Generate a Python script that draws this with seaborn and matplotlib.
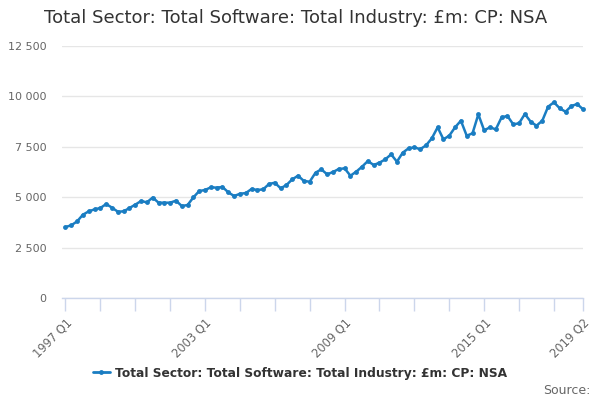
import matplotlib
matplotlib.use("Agg")
import matplotlib.pyplot as plt
import seaborn as sns
import pandas as pd
import numpy as np
from matplotlib.ticker import FuncFormatter

series_name = "Total Sector: Total Software: Total Industry: £m: CP: NSA"

values = [
    3522, 3605, 3803, 4133, 4298, 4397, 4464, 4662, 4480, 4282,
    4298, 4464, 4630, 4811, 4745, 4985, 4728, 4728, 4728, 4828,
    4563, 4613, 4993, 5307, 5357, 5490, 5474, 5506, 5242, 5059,
    5170, 5205, 5406, 5357, 5390, 5654, 5720, 5440, 5605, 5886,
    6067, 5803, 5770, 6216, 6382, 6133, 6250, 6398, 6430, 6067,
    6265, 6513, 6795, 6597, 6712, 6878, 7126, 6762, 7209, 7424,
    7473, 7380, 7570, 7920, 8466, 7870, 8051, 8466, 8795, 8051,
    8168, 9110, 8316, 8466, 8366, 8961, 9030, 8615, 8665, 9126,
    8745, 8547, 8795, 9490, 9707, 9410, 9240, 9523, 9622, 9360,
]

quarters = [f"{1997 + k // 4} Q{k % 4 + 1}" for k in range(len(values))]
label_quarters = ["1997 Q1", "2003 Q1", "2009 Q1", "2015 Q1", "2019 Q2"]
y_ticks = [0, 2500, 5000, 7500, 10000, 12500]

df = pd.DataFrame({"idx": np.arange(len(values)), "quarter": quarters, "value": values})

sns.set_style("white")
plt.rcParams["font.family"] = ["DejaVu Sans"]

line_color = "#1a7dc2"
fig = plt.figure(figsize=(6, 4), dpi=100)
ax = fig.add_axes([62 / 600, 1 - 298 / 400, (583 - 62) / 600, (298 - 46) / 400])

sns.lineplot(data=df, x="idx", y="value", ax=ax, color=line_color, linewidth=1.8,
             marker="o", markersize=3.5, markeredgewidth=0, label=series_name,
             clip_on=False, legend=False)

ax.set_xlim(-0.6, len(values) - 1)
ax.set_ylim(0, 12500)
ax.set_yticks(y_ticks)
ax.yaxis.set_major_formatter(FuncFormatter(lambda v, p: f"{int(v):,}".replace(",", " ")))
ax.grid(axis="y", color="#e6e6e6", linewidth=1)
ax.set_axisbelow(True)

minor_pos = list(range(0, len(values), 6)) + [len(values) - 1]
ax.set_xticks(minor_pos)
lab_pos = [quarters.index(q) for q in label_quarters]
ax.set_xticklabels([quarters[p] if p in lab_pos else "" for p in minor_pos],
                   rotation=45, ha="right", rotation_mode="anchor")
ax.tick_params(axis="x", length=9, width=1, color="#ccd6eb", labelsize=8.3,
               labelcolor="#666666", pad=4, bottom=True)
ax.tick_params(axis="y", length=0, labelsize=8, labelcolor="#666666", pad=11)

for s in ["top", "right", "left"]:
    ax.spines[s].set_visible(False)
ax.spines["bottom"].set_color("#ccd6eb")
ax.spines["bottom"].set_linewidth(1)
ax.set_xlabel("")
ax.set_ylabel("")

fig.text(44 / 600, 1 - 18 / 400, series_name, fontsize=13, color="#333333",
         va="center", ha="left")

handle = plt.Line2D([], [], color=line_color, linewidth=2, marker="o", markersize=3.5,
                    markeredgewidth=0)
fig.legend([handle], [series_name], loc="center", bbox_to_anchor=(0.5, 1 - 373 / 400),
           frameon=False, prop={"size": 8.8, "weight": "bold"}, handlelength=1.4,
           handletextpad=0.4, labelcolor="#333333")

fig.text(590 / 600, 1 - 390 / 400, "Source:", fontsize=9, color="#666666",
         ha="right", va="center")

fig.savefig("out.png", dpi=100)
